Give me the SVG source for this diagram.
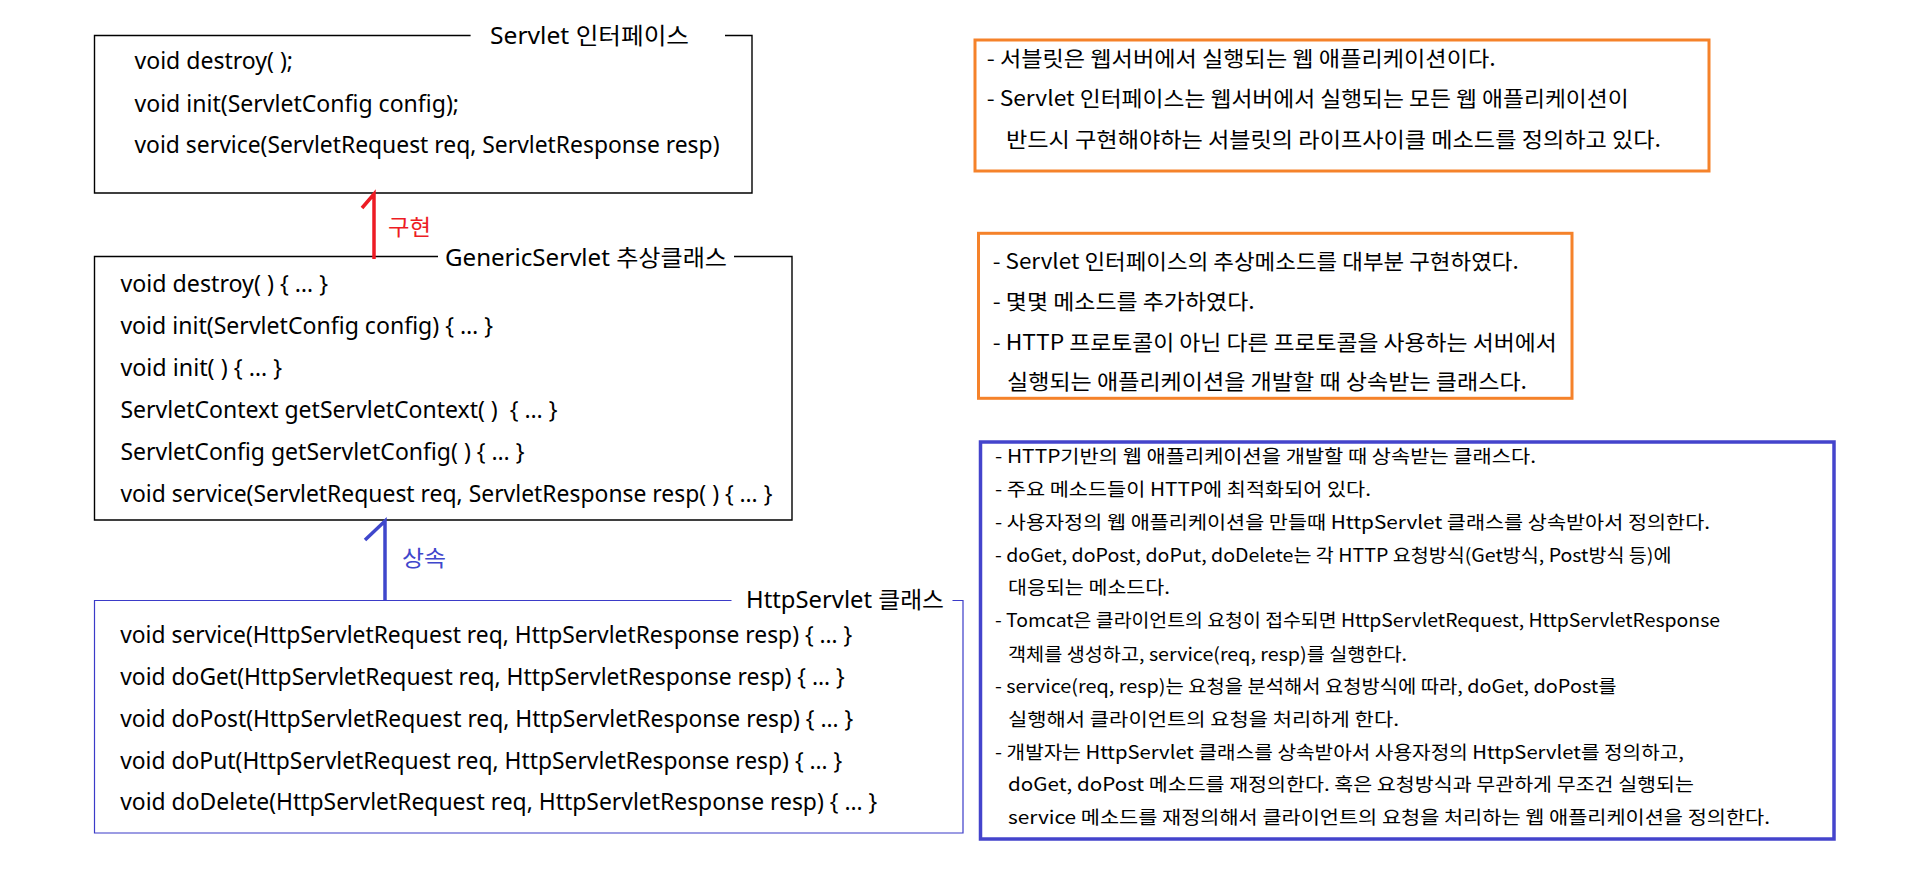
<svg xmlns="http://www.w3.org/2000/svg" width="1907" height="873" viewBox="0 0 1907 873">
<style>
  text { font-family: "Noto Sans", "Noto Sans CJK KR", sans-serif; fill: #000; }
  .code { font-size: 23px; white-space: pre; }
  .ttl { font-size: 23px; }
  .nA { font-size: 21px; font-family: "Noto Sans CJK KR", "Noto Sans", sans-serif; }
  .nC { font-size: 18.5px; font-family: "Noto Sans CJK KR", "Noto Sans", sans-serif; }
  .lbl { font-size: 22px; font-family: "Noto Sans CJK KR", sans-serif; }
  .box { fill: none; stroke: #000; stroke-width: 1.4; }
  .boxb { fill: none; stroke: #3B3BC8; stroke-width: 1.2; }
  .org { fill: #fff; stroke: #F5822A; stroke-width: 3; }
  .blu { fill: #fff; stroke: #4444CC; stroke-width: 3.5; }
</style>
<rect width="1907" height="873" fill="#fff"/>

<g id="servlet-interface">
  <path class="box" d="M470.6,35.5 H94.5 V193 H752 V35.5 H725"/>
  <text class="ttl" x="490" y="43.5" textLength="199" lengthAdjust="spacingAndGlyphs">Servlet 인터페이스</text>
  <text class="code" x="134.5" y="69.3" textLength="158.5" lengthAdjust="spacingAndGlyphs">void destroy( );</text>
  <text class="code" x="134.5" y="111.5" textLength="324.5" lengthAdjust="spacingAndGlyphs">void init(ServletConfig config);</text>
  <text class="code" x="134.5" y="152.7" textLength="585" lengthAdjust="spacingAndGlyphs">void service(ServletRequest req, ServletResponse resp)</text>
</g>

<g id="generic-servlet">
  <path class="box" d="M438,256.5 H94.5 V520 H792 V256.5 H734"/>
  <text class="ttl" x="445" y="266" textLength="282" lengthAdjust="spacingAndGlyphs">GenericServlet 추상클래스</text>
  <text class="code" x="120.4" y="292" textLength="207.6" lengthAdjust="spacingAndGlyphs">void destroy( ) { … }</text>
  <text class="code" x="120.4" y="334" textLength="372.6" lengthAdjust="spacingAndGlyphs">void init(ServletConfig config) { … }</text>
  <text class="code" x="120.4" y="375.5" textLength="161.6" lengthAdjust="spacingAndGlyphs">void init( ) { … }</text>
  <text class="code" x="120.4" y="418" textLength="437" lengthAdjust="spacingAndGlyphs">ServletContext getServletContext( )  { … }</text>
  <text class="code" x="120.4" y="460" textLength="404" lengthAdjust="spacingAndGlyphs">ServletConfig getServletConfig( ) { … }</text>
  <text class="code" x="120.4" y="502" textLength="652" lengthAdjust="spacingAndGlyphs">void service(ServletRequest req, ServletResponse resp( ) { … }</text>
</g>

<g id="http-servlet">
  <path class="boxb" d="M731.5,600.5 H94.5 V833 H963 V600.5 H952.5"/>
  <text class="ttl" x="746" y="608" textLength="198" lengthAdjust="spacingAndGlyphs">HttpServlet 클래스</text>
  <text class="code" x="120.2" y="643" textLength="732" lengthAdjust="spacingAndGlyphs">void service(HttpServletRequest req, HttpServletResponse resp) { … }</text>
  <text class="code" x="120.2" y="685" textLength="724.5" lengthAdjust="spacingAndGlyphs">void doGet(HttpServletRequest req, HttpServletResponse resp) { … }</text>
  <text class="code" x="120.2" y="727" textLength="733" lengthAdjust="spacingAndGlyphs">void doPost(HttpServletRequest req, HttpServletResponse resp) { … }</text>
  <text class="code" x="120.2" y="768.5" textLength="722" lengthAdjust="spacingAndGlyphs">void doPut(HttpServletRequest req, HttpServletResponse resp) { … }</text>
  <text class="code" x="120.2" y="810" textLength="757" lengthAdjust="spacingAndGlyphs">void doDelete(HttpServletRequest req, HttpServletResponse resp) { … }</text>
</g>

<g id="connectors">
  <path d="M362,208 L374,194 V259" fill="none" stroke="#ED1C24" stroke-width="3.5" stroke-linejoin="miter"/>
  <text class="lbl" x="388" y="235" textLength="43" lengthAdjust="spacingAndGlyphs" style="fill:#ED1C24">구현</text>
  <path d="M365,540 L385,521 V600" fill="none" stroke="#3F47CC" stroke-width="3.5" stroke-linejoin="miter"/>
  <text class="lbl" x="402" y="566" textLength="44" lengthAdjust="spacingAndGlyphs" style="fill:#3F47CC">상속</text>
</g>

<g id="note-servlet">
  <rect class="org" x="975" y="40" width="734" height="131"/>
  <text class="nA" x="986.7" y="66" textLength="509" lengthAdjust="spacingAndGlyphs">- 서블릿은 웹서버에서 실행되는 웹 애플리케이션이다.</text>
  <text class="nA" x="986.7" y="106" textLength="642" lengthAdjust="spacingAndGlyphs">- Servlet 인터페이스는 웹서버에서 실행되는 모든 웹 애플리케이션이</text>
  <text class="nA" x="1006" y="146.5" textLength="655" lengthAdjust="spacingAndGlyphs">반드시 구현해야하는 서블릿의 라이프사이클 메소드를 정의하고 있다.</text>
</g>

<g id="note-generic">
  <rect class="org" x="978.5" y="233.3" width="593.5" height="165"/>
  <text class="nA" x="992.7" y="269" textLength="526" lengthAdjust="spacingAndGlyphs">- Servlet 인터페이스의 추상메소드를 대부분 구현하였다.</text>
  <text class="nA" x="992.7" y="309" textLength="262" lengthAdjust="spacingAndGlyphs">- 몇몇 메소드를 추가하였다.</text>
  <text class="nA" x="992.7" y="349.5" textLength="564" lengthAdjust="spacingAndGlyphs">- HTTP 프로토콜이 아닌 다른 프로토콜을 사용하는 서버에서</text>
  <text class="nA" x="1007" y="388.5" textLength="520" lengthAdjust="spacingAndGlyphs">실행되는 애플리케이션을 개발할 때 상속받는 클래스다.</text>
</g>

<g id="note-http">
  <rect class="blu" x="980.5" y="442" width="853.5" height="397"/>
  <text class="nC" x="995" y="462.5" textLength="541" lengthAdjust="spacingAndGlyphs">- HTTP기반의 웹 애플리케이션을 개발할 때 상속받는 클래스다.</text>
  <text class="nC" x="995" y="495.5" textLength="376" lengthAdjust="spacingAndGlyphs">- 주요 메소드들이 HTTP에 최적화되어 있다.</text>
  <text class="nC" x="995" y="528.5" textLength="715" lengthAdjust="spacingAndGlyphs">- 사용자정의 웹 애플리케이션을 만들때 HttpServlet 클래스를 상속받아서 정의한다.</text>
  <text class="nC" x="995" y="561.5" textLength="676.5" lengthAdjust="spacingAndGlyphs">- doGet, doPost, doPut, doDelete는 각 HTTP 요청방식(Get방식, Post방식 등)에</text>
  <text class="nC" x="1008" y="594" textLength="162" lengthAdjust="spacingAndGlyphs">대응되는 메소드다.</text>
  <text class="nC" x="995" y="627" textLength="725" lengthAdjust="spacingAndGlyphs">- Tomcat은 클라이언트의 요청이 접수되면 HttpServletRequest, HttpServletResponse</text>
  <text class="nC" x="1008" y="660.5" textLength="399" lengthAdjust="spacingAndGlyphs">객체를 생성하고, service(req, resp)를 실행한다.</text>
  <text class="nC" x="995" y="693.3" textLength="621.5" lengthAdjust="spacingAndGlyphs">- service(req, resp)는 요청을 분석해서 요청방식에 따라, doGet, doPost를</text>
  <text class="nC" x="1008" y="726" textLength="391" lengthAdjust="spacingAndGlyphs">실행해서 클라이언트의 요청을 처리하게 한다.</text>
  <text class="nC" x="995" y="758.5" textLength="689" lengthAdjust="spacingAndGlyphs">- 개발자는 HttpServlet 클래스를 상속받아서 사용자정의 HttpServlet를 정의하고,</text>
  <text class="nC" x="1008" y="791" textLength="686" lengthAdjust="spacingAndGlyphs">doGet, doPost 메소드를 재정의한다. 혹은 요청방식과 무관하게 무조건 실행되는</text>
  <text class="nC" x="1008" y="824" textLength="762" lengthAdjust="spacingAndGlyphs">service 메소드를 재정의해서 클라이언트의 요청을 처리하는 웹 애플리케이션을 정의한다.</text>
</g>
</svg>
